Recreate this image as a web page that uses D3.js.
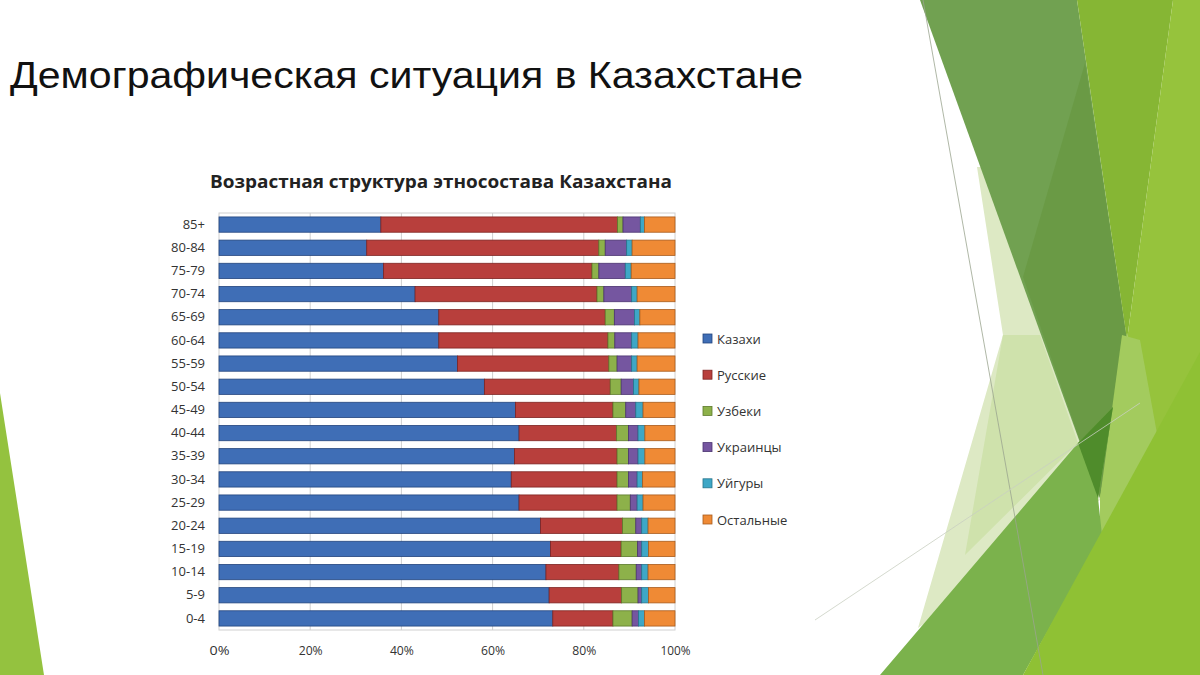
<!DOCTYPE html>
<html><head><meta charset="utf-8">
<script src="https://cdn.jsdelivr.net/npm/d3@7"></script>
<style>html,body{margin:0;padding:0;background:#fff;}svg{display:block;}</style>
</head><body>
<svg id="c" width="1200" height="675"></svg>
<script>
const categories = ["85+","80-84","75-79","70-74","65-69","60-64","55-59","50-54","45-49","40-44","35-39","30-34","25-29","20-24","15-19","10-14","5-9","0-4"];
const seriesNames = ["Казахи","Русские","Узбеки","Украинцы","Уйгуры","Остальные"];
const kazakhs    = [35.5,32.4,36.1,43.0,48.2,48.2,52.3,58.2,65.0,65.8,64.8,64.1,65.8,70.5,72.7,71.7,72.4,73.2];
const russians   = [51.9,50.9,45.7,39.9,36.5,37.1,33.2,27.6,21.4,21.4,22.5,23.2,21.5,18.0,15.5,16.0,15.9,13.2];
const uzbeks     = [1.2,1.4,1.5,1.5,2.0,1.5,1.8,2.4,2.8,2.6,2.5,2.5,2.9,2.9,3.6,3.8,3.6,4.2];
const ukrainians = [3.8,4.7,5.8,6.1,4.4,3.7,3.2,2.7,2.2,2.1,2.1,1.9,1.5,1.3,0.9,1.2,0.8,1.4];
const uighurs    = [0.9,1.2,1.3,1.2,1.2,1.4,1.2,1.2,1.6,1.5,1.5,1.2,1.3,1.4,1.5,1.4,1.5,1.3];
const others     = [6.7,9.4,9.6,8.3,7.7,8.1,8.3,7.9,7.0,6.6,6.6,7.1,7.0,5.9,5.8,5.9,5.8,6.7];
const tickValues = [0,0.2,0.4,0.6,0.8,1];
const colors = ["#3F6EB6","#B83F3C","#8DB14A","#7556A0","#3EA7C6","#EF8A35"];
const strokes = ["#23457e","#7e2422","#5d7a2c","#4b3470","#26758c","#a85b1c"];

const svg = d3.select("#c");

// decorative background shapes (slide theme)
const deco = [
  {p:[[0,393],[44,675],[0,675]], c:"#94c23f"},
  {p:[[977,167],[1003,335],[918,628],[1100,500],[1040,167]], c:"#dde9c4"},
  {p:[[1003,335],[1040,335],[1078,443],[965,555]], c:"#cfe2ac"},
  {p:[[920,0],[1077,0],[1127,340],[1100,498]], c:"#71a151"},
  {p:[[1085,63],[1127,340],[1100,498],[1023,277]], c:"#6a9a45"},
  {p:[[1077,0],[1173,0],[1127,340]], c:"#86b634"},
  {p:[[1173,0],[1200,0],[1200,675],[1100,675],[1100,498],[1127,340]], c:"#96c33c"},
  {p:[[1122,335],[1140,340],[1160,450],[1148,525],[1100,535],[1100,498]], c:"#a3cb5e"},
  {p:[[880,675],[1078,443],[1113,407],[1098,498],[1102,535],[1023,675]], c:"#7bb24c"},
  {p:[[1078,443],[1113,407],[1098,498]], c:"#4f8c2b"},
  {p:[[1023,675],[1200,352],[1200,675]], c:"#8fc134"}
];
svg.append("g").selectAll("path").data(deco).join("path")
  .attr("d", d => "M" + d.p.map(q => q.join(",")).join("L") + "Z")
  .attr("fill", d => d.c);
svg.append("line").attr("x1",923).attr("y1",0).attr("x2",1043).attr("y2",675)
  .attr("stroke","#9aa58f").attr("stroke-width",0.8);
svg.append("line").attr("x1",815).attr("y1",620).attr("x2",1140).attr("y2",403)
  .attr("stroke","#c9cfc2").attr("stroke-width",0.8);

// main title
svg.append("text").attr("x",10).attr("y",88)
  .attr("font-family","'Liberation Sans', Arial, sans-serif").attr("font-size",37)
  .attr("fill","#111").attr("textLength",793).attr("lengthAdjust","spacingAndGlyphs")
  .text("Демографическая ситуация в Казахстане");

// chart title
svg.append("text").attr("x",441).attr("y",188).attr("text-anchor","middle")
  .attr("font-family","'Open Sans', sans-serif").attr("font-weight","bold").attr("font-size",17)
  .attr("fill","#222").attr("textLength",462).attr("lengthAdjust","spacingAndGlyphs")
  .text("Возрастная структура этносостава Казахстана");

const rows = categories.map((c,i) => ({
  cat:c, "Казахи":kazakhs[i], "Русские":russians[i], "Узбеки":uzbeks[i],
  "Украинцы":ukrainians[i], "Уйгуры":uighurs[i], "Остальные":others[i]
}));
const stack = d3.stack().keys(seriesNames).offset(d3.stackOffsetExpand);
const stacked = stack(rows);

const x = d3.scaleLinear().domain([0,1]).range([219,675]);
const y = d3.scaleBand().domain(categories).range([213,630]).paddingInner(0.34).paddingOuter(0.17);

// plot frame and gridlines
svg.append("rect").attr("x",x(0)).attr("y",213).attr("width",x(1)-x(0)).attr("height",417)
  .attr("fill","none").attr("stroke","#d0d0d0");
svg.append("g").selectAll("line").data(tickValues.slice(1,-1)).join("line")
  .attr("x1",d=>x(d)).attr("x2",d=>x(d)).attr("y1",213).attr("y2",630)
  .attr("stroke","#cfcfcf").attr("stroke-width",1);

svg.append("g").selectAll("g").data(stacked).join("g")
  .attr("fill",(d,i)=>colors[i]).attr("stroke",(d,i)=>strokes[i]).attr("stroke-width",0.8)
  .selectAll("rect").data(d=>d).join("rect")
  .attr("x",d=>x(d[0])).attr("width",d=>x(d[1])-x(d[0]))
  .attr("y",d=>y(d.data.cat)).attr("height",y.bandwidth());

// axes
const xAxis = svg.append("g").attr("transform","translate(0,630)")
  .call(d3.axisBottom(x).tickValues(tickValues).tickFormat(d3.format(".0%")).tickSize(0).tickPadding(16));
xAxis.select(".domain").remove();
xAxis.selectAll("text").attr("font-family","'Open Sans', sans-serif").attr("font-size",12).attr("fill","#333")
  .attr("textLength",d=>d===1?30:(d===0?20:24)).attr("lengthAdjust","spacingAndGlyphs");

const yAxis = svg.append("g").attr("transform","translate(205,0)")
  .call(d3.axisLeft(y).tickSize(0).tickPadding(0));
yAxis.select(".domain").remove();
yAxis.selectAll("text").attr("font-family","'Open Sans', sans-serif").attr("font-size",13).attr("fill","#333");

// legend
const lg = svg.append("g").selectAll("g").data(seriesNames).join("g")
  .attr("transform",(d,i)=>`translate(703,${339 + i*36.2})`);
lg.append("rect").attr("x",0).attr("y",-5).attr("width",9).attr("height",9)
  .attr("fill",(d,i)=>colors[i]).attr("stroke",(d,i)=>strokes[i]).attr("stroke-width",0.8);
lg.append("text").attr("x",14).attr("y",4.5).attr("font-family","'Open Sans', sans-serif")
  .attr("font-size",13).attr("fill","#333").text(d=>d);
</script>
</body></html>
